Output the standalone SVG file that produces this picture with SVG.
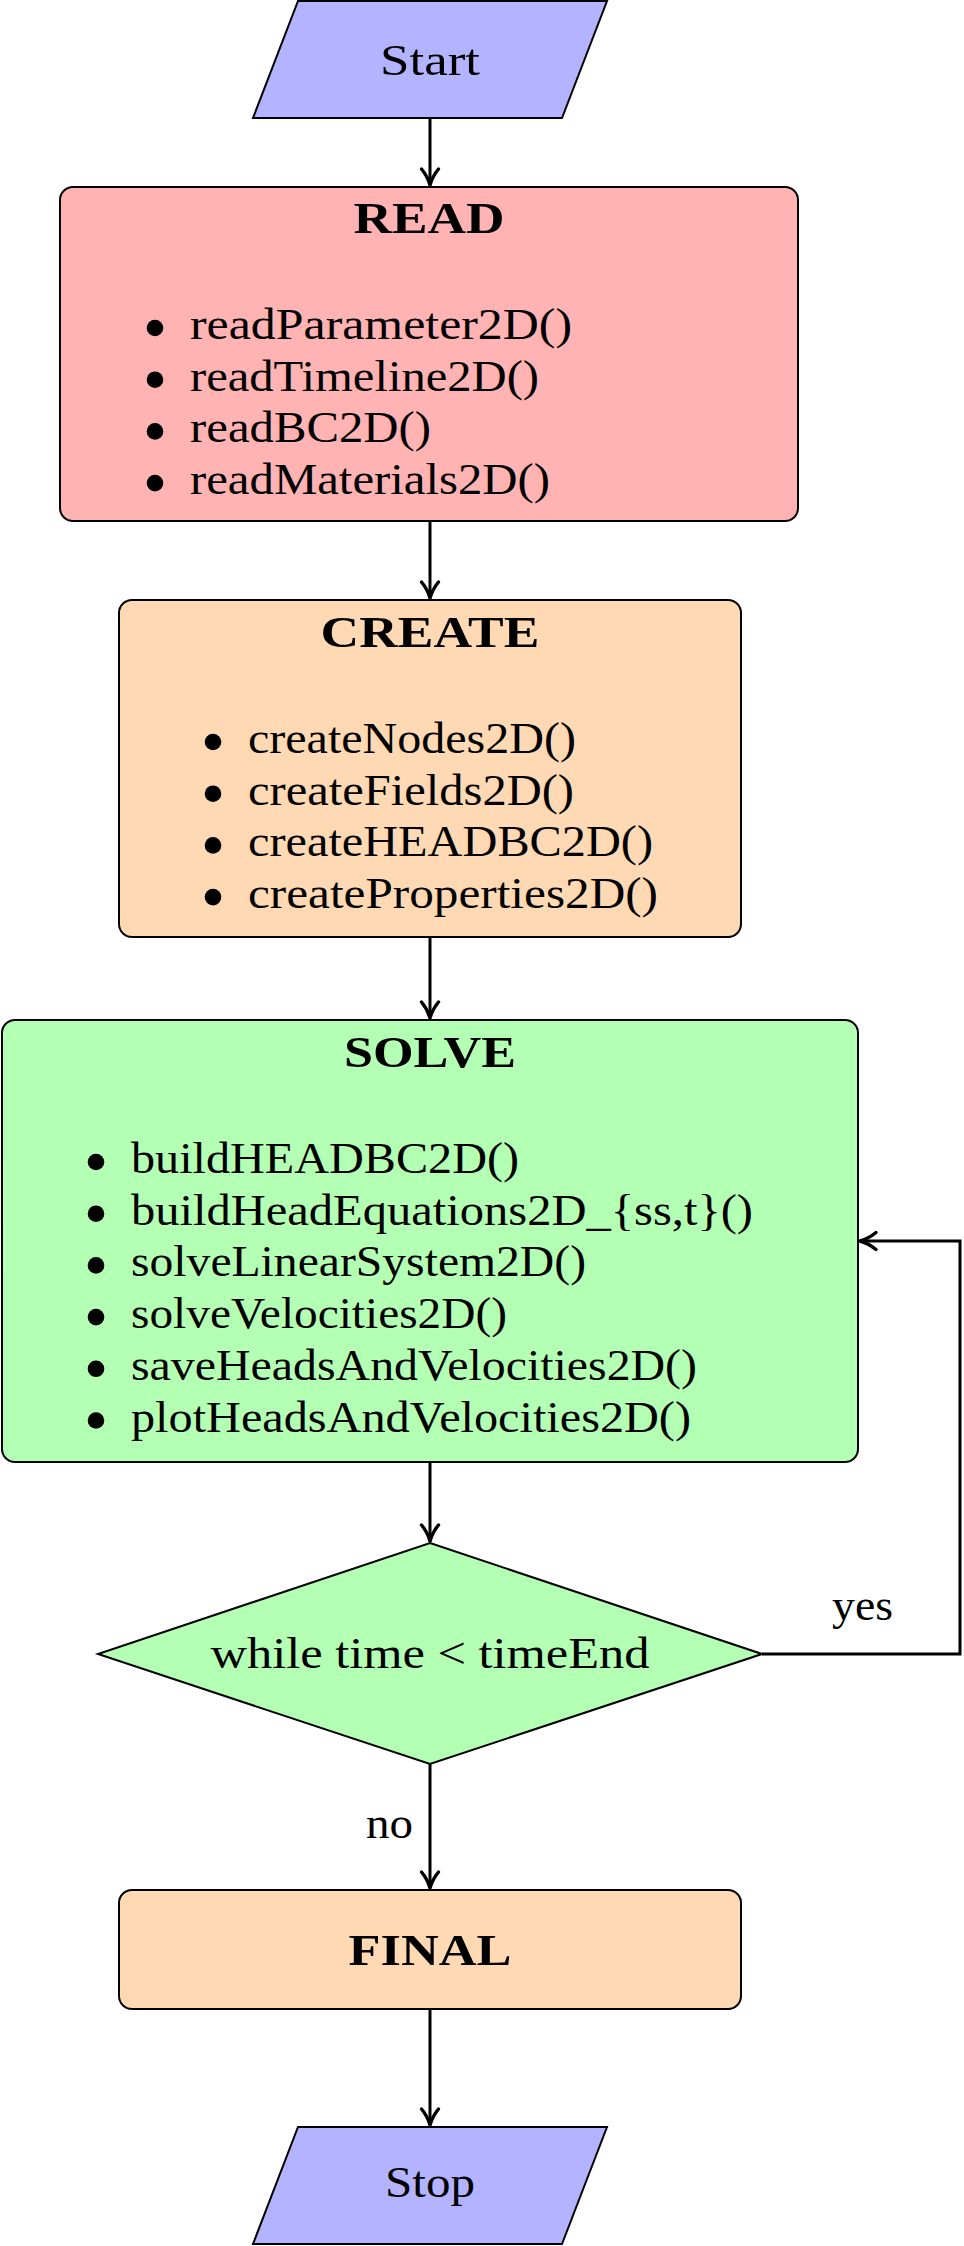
<svg xmlns="http://www.w3.org/2000/svg" width="964" height="2246" viewBox="0 0 964 2246">
  <style>
    .node { stroke: #000; stroke-width: 2; stroke-linejoin: miter; }
    .io { fill: #B3B3FF; }
    .read { fill: #FFB3B3; }
    .create { fill: #FFD9B3; }
    .solve { fill: #B3FFB3; }
    .txt { font-family: "Liberation Serif", "Times New Roman", serif; font-size: 45px; fill: #000; }
    .title { font-weight: bold; text-anchor: middle; }
    .mid { text-anchor: middle; }
    .edge { fill: none; stroke: #000; stroke-width: 3; }
  </style>
  <defs>
    <marker id="arrow" markerUnits="userSpaceOnUse" viewBox="-20 -12 24 24" markerWidth="24" markerHeight="24" refX="0" refY="0" orient="auto">
      <path d="M -16,-8.5 C -10,-3.5 -4,-1.2 0,0 C -4,1.2 -10,3.5 -16,8.5" fill="none" stroke="#000" stroke-width="3.4" stroke-linecap="round" stroke-linejoin="round"/>
    </marker>
  </defs>

  <rect x="0" y="0" width="964" height="2246" fill="#fff"/>

  <!-- connectors -->
  <g id="connectors" class="edge">
    <path d="M430,118 V185" marker-end="url(#arrow)"/>
    <path d="M430,521 V598" marker-end="url(#arrow)"/>
    <path d="M430,937 V1018" marker-end="url(#arrow)"/>
    <path d="M430,1462 V1541" marker-end="url(#arrow)"/>
    <path d="M762,1654 H960 V1241 H860" marker-end="url(#arrow)"/>
    <path d="M430,1764 V1888" marker-end="url(#arrow)"/>
    <path d="M430,2009 V2125" marker-end="url(#arrow)"/>
  </g>

  <!-- start -->
  <g id="start">
    <polygon class="node io" points="298,1 607,1 562,118 253,118"/>
    <text class="txt mid" x="430" y="75" textLength="100" lengthAdjust="spacingAndGlyphs">Start</text>
  </g>

  <!-- read stage -->
  <g id="read">
    <rect class="node read" x="60" y="187" width="738" height="334" rx="13" ry="13"/>
    <text class="txt title" x="429" y="233" textLength="151" lengthAdjust="spacingAndGlyphs">READ</text>
    <circle cx="155" cy="328" r="8.3"/>
    <circle cx="155" cy="379.7" r="8.3"/>
    <circle cx="155" cy="431.4" r="8.3"/>
    <circle cx="155" cy="483.1" r="8.3"/>
    <text class="txt" x="190" y="339" textLength="382" lengthAdjust="spacingAndGlyphs">readParameter2D()</text>
    <text class="txt" x="190" y="390.7" textLength="349" lengthAdjust="spacingAndGlyphs">readTimeline2D()</text>
    <text class="txt" x="190" y="442.4" textLength="241" lengthAdjust="spacingAndGlyphs">readBC2D()</text>
    <text class="txt" x="190" y="494.1" textLength="360" lengthAdjust="spacingAndGlyphs">readMaterials2D()</text>
  </g>

  <!-- create stage -->
  <g id="create">
    <rect class="node create" x="119" y="600" width="622" height="337" rx="13" ry="13"/>
    <text class="txt title" x="430" y="647" textLength="219" lengthAdjust="spacingAndGlyphs">CREATE</text>
    <circle cx="213" cy="742" r="8.3"/>
    <circle cx="213" cy="793.7" r="8.3"/>
    <circle cx="213" cy="845.4" r="8.3"/>
    <circle cx="213" cy="897.1" r="8.3"/>
    <text class="txt" x="248" y="753" textLength="328" lengthAdjust="spacingAndGlyphs">createNodes2D()</text>
    <text class="txt" x="248" y="804.7" textLength="326" lengthAdjust="spacingAndGlyphs">createFields2D()</text>
    <text class="txt" x="248" y="856.4" textLength="405" lengthAdjust="spacingAndGlyphs">createHEADBC2D()</text>
    <text class="txt" x="248" y="908.1" textLength="410" lengthAdjust="spacingAndGlyphs">createProperties2D()</text>
  </g>

  <!-- solve stage -->
  <g id="solve">
    <rect class="node solve" x="2" y="1020" width="856" height="442" rx="13" ry="13"/>
    <text class="txt title" x="430" y="1067" textLength="172" lengthAdjust="spacingAndGlyphs">SOLVE</text>
    <circle cx="96" cy="1162" r="8.3"/>
    <circle cx="96" cy="1213.7" r="8.3"/>
    <circle cx="96" cy="1265.4" r="8.3"/>
    <circle cx="96" cy="1317.1" r="8.3"/>
    <circle cx="96" cy="1368.8" r="8.3"/>
    <circle cx="96" cy="1420.5" r="8.3"/>
    <text class="txt" x="131" y="1173" textLength="388" lengthAdjust="spacingAndGlyphs">buildHEADBC2D()</text>
    <text class="txt" x="131" y="1224.7" textLength="622" lengthAdjust="spacingAndGlyphs">buildHeadEquations2D_{ss,t}()</text>
    <text class="txt" x="131" y="1276.4" textLength="455" lengthAdjust="spacingAndGlyphs">solveLinearSystem2D()</text>
    <text class="txt" x="131" y="1328.1" textLength="376" lengthAdjust="spacingAndGlyphs">solveVelocities2D()</text>
    <text class="txt" x="131" y="1379.8" textLength="566" lengthAdjust="spacingAndGlyphs">saveHeadsAndVelocities2D()</text>
    <text class="txt" x="131" y="1431.5" textLength="560" lengthAdjust="spacingAndGlyphs">plotHeadsAndVelocities2D()</text>
  </g>

  <!-- loop condition -->
  <g id="condition">
    <polygon class="node solve" points="430,1543 762,1654 430,1764 98,1654"/>
    <text class="txt mid" x="430" y="1668" textLength="439" lengthAdjust="spacingAndGlyphs">while time &lt; timeEnd</text>
  </g>

  <!-- branch labels -->
  <g id="labels">
    <text class="txt" x="832" y="1620" textLength="61" lengthAdjust="spacingAndGlyphs">yes</text>
    <text class="txt" x="366" y="1838" textLength="47" lengthAdjust="spacingAndGlyphs">no</text>
  </g>

  <!-- final stage -->
  <g id="final">
    <rect class="node create" x="119" y="1890" width="622" height="119" rx="13" ry="13"/>
    <text class="txt title" x="430" y="1965" textLength="163" lengthAdjust="spacingAndGlyphs">FINAL</text>
  </g>

  <!-- stop -->
  <g id="stop">
    <polygon class="node io" points="298,2127 607,2127 562,2244 253,2244"/>
    <text class="txt mid" x="430" y="2197" textLength="90" lengthAdjust="spacingAndGlyphs">Stop</text>
  </g>
</svg>
